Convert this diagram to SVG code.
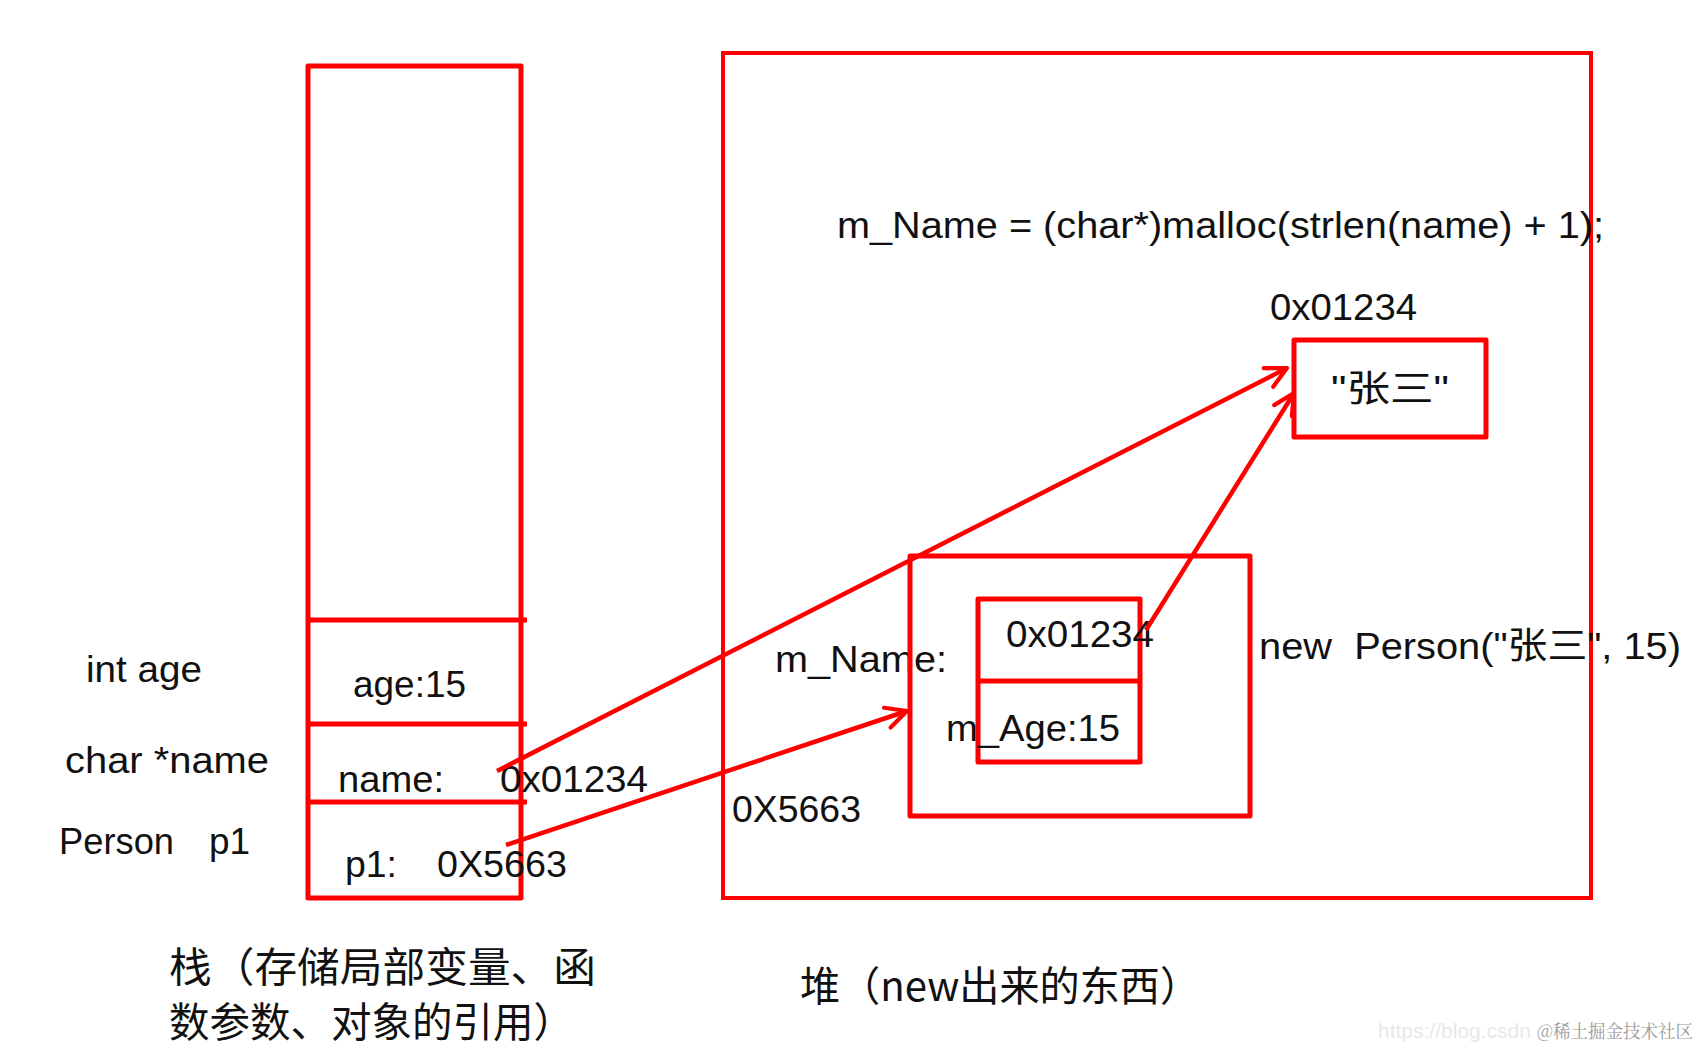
<svg xmlns="http://www.w3.org/2000/svg" width="1702" height="1049" viewBox="0 0 1702 1049">
<style>
.box{fill:none;stroke:#ff0000;stroke-width:5;stroke-linejoin:round}
.thin{fill:none;stroke:#ff0000;stroke-width:4}
.t{font-family:"Liberation Sans","Noto Sans CJK SC",sans-serif;font-size:37px;fill:#111}
.cjk{font-family:"Noto Sans CJK SC",sans-serif;font-size:41px;fill:#111}
.conn{stroke:#ff0000;stroke-width:4.5;fill:none}
</style>
<defs>
<marker id="arr" viewBox="0 0 20 20" refX="18" refY="10" markerWidth="26" markerHeight="26" markerUnits="userSpaceOnUse" orient="auto">
<path d="M2,2 L18,10 L2,18" fill="none" stroke="#ff0000" stroke-width="3.2" stroke-linecap="round" stroke-linejoin="round"/>
</marker>
</defs>
<rect width="1702" height="1049" fill="#ffffff"/>

<g id="stack">
<rect class="box" x="308" y="66" width="213" height="832"/>
<line class="box" x1="308" y1="620" x2="527" y2="620"/>
<line class="box" x1="308" y1="724" x2="527" y2="724"/>
<line class="box" x1="308" y1="802" x2="527" y2="802"/>
</g>

<g id="stack-labels">
<text class="t" x="86" y="682" textLength="116" lengthAdjust="spacingAndGlyphs">int age</text>
<text class="t" x="65" y="773" textLength="204" lengthAdjust="spacingAndGlyphs">char *name</text>
<text class="t" x="59" y="854" textLength="115" lengthAdjust="spacingAndGlyphs">Person</text>
<text class="t" x="209" y="854" textLength="41" lengthAdjust="spacingAndGlyphs">p1</text>
</g>

<g id="stack-age">
<text class="t" x="353" y="697" textLength="113" lengthAdjust="spacingAndGlyphs">age:15</text>
</g>
<g id="stack-name">
<text class="t" x="338" y="792" textLength="106" lengthAdjust="spacingAndGlyphs">name:</text>
<text class="t" x="500" y="792" textLength="148" lengthAdjust="spacingAndGlyphs">0x01234</text>
</g>
<g id="stack-p1">
<text class="t" x="345" y="877" textLength="52" lengthAdjust="spacingAndGlyphs">p1:</text>
<text class="t" x="437" y="877" textLength="130" lengthAdjust="spacingAndGlyphs">0X5663</text>
</g>

<g id="heap">
<rect class="thin" x="723" y="53" width="868" height="845"/>
<text class="t" x="837" y="238" textLength="767" lengthAdjust="spacingAndGlyphs">m_Name = (char*)malloc(strlen(name) + 1);</text>
<text class="t" x="732" y="822" textLength="129" lengthAdjust="spacingAndGlyphs">0X5663</text>
<text class="t" x="775" y="672" textLength="172" lengthAdjust="spacingAndGlyphs">m_Name:</text>
<text class="t" x="1259" y="659" textLength="422" lengthAdjust="spacingAndGlyphs" xml:space="preserve">new  Person("张三", 15)</text>
</g>

<g id="string-node">
<text class="t" x="1270" y="320" textLength="147" lengthAdjust="spacingAndGlyphs">0x01234</text>
<rect class="box" x="1294" y="340" width="192" height="97"/>
<text class="t" x="1331" y="402" textLength="118" lengthAdjust="spacingAndGlyphs" fill="#333">"张三"</text>
</g>

<g id="person-object">
<rect class="box" x="910" y="556" width="340" height="260"/>
</g>

<g id="person-fields">
<rect class="box" x="978" y="599" width="162" height="163"/>
<line class="box" x1="978" y1="681" x2="1140" y2="681"/>
<text class="t" x="1006" y="647" textLength="148" lengthAdjust="spacingAndGlyphs">0x01234</text>
<text class="t" x="946" y="741" textLength="174" lengthAdjust="spacingAndGlyphs">m_Age:15</text>
</g>

<g id="connectors">
<line class="conn" x1="497" y1="771" x2="1287" y2="368" marker-end="url(#arr)"/>
<line class="conn" x1="506" y1="845" x2="907" y2="711" marker-end="url(#arr)"/>
<line class="conn" x1="1146" y1="630" x2="1294" y2="393" marker-end="url(#arr)"/>
</g>

<g id="captions">
<text class="cjk" x="169" y="982" textLength="427" lengthAdjust="spacingAndGlyphs">栈（存储局部变量、函</text>
<text class="cjk" x="169" y="1037" textLength="405" lengthAdjust="spacingAndGlyphs">数参数、对象的引用）</text>
<text class="cjk" x="800" y="1001" textLength="400" lengthAdjust="spacingAndGlyphs">堆（new出来的东西）</text>
</g>

<g id="watermark">
<text x="1378" y="1038" font-family="Liberation Sans,sans-serif" font-size="21" fill="#e8e8e8">https://blog.csdn</text>
<text x="1537" y="1038" font-family="Noto Serif CJK SC,Noto Sans CJK SC,serif" font-size="18" fill="#9a9a9a" textLength="156" lengthAdjust="spacingAndGlyphs">@稀土掘金技术社区</text>
</g>
</svg>
